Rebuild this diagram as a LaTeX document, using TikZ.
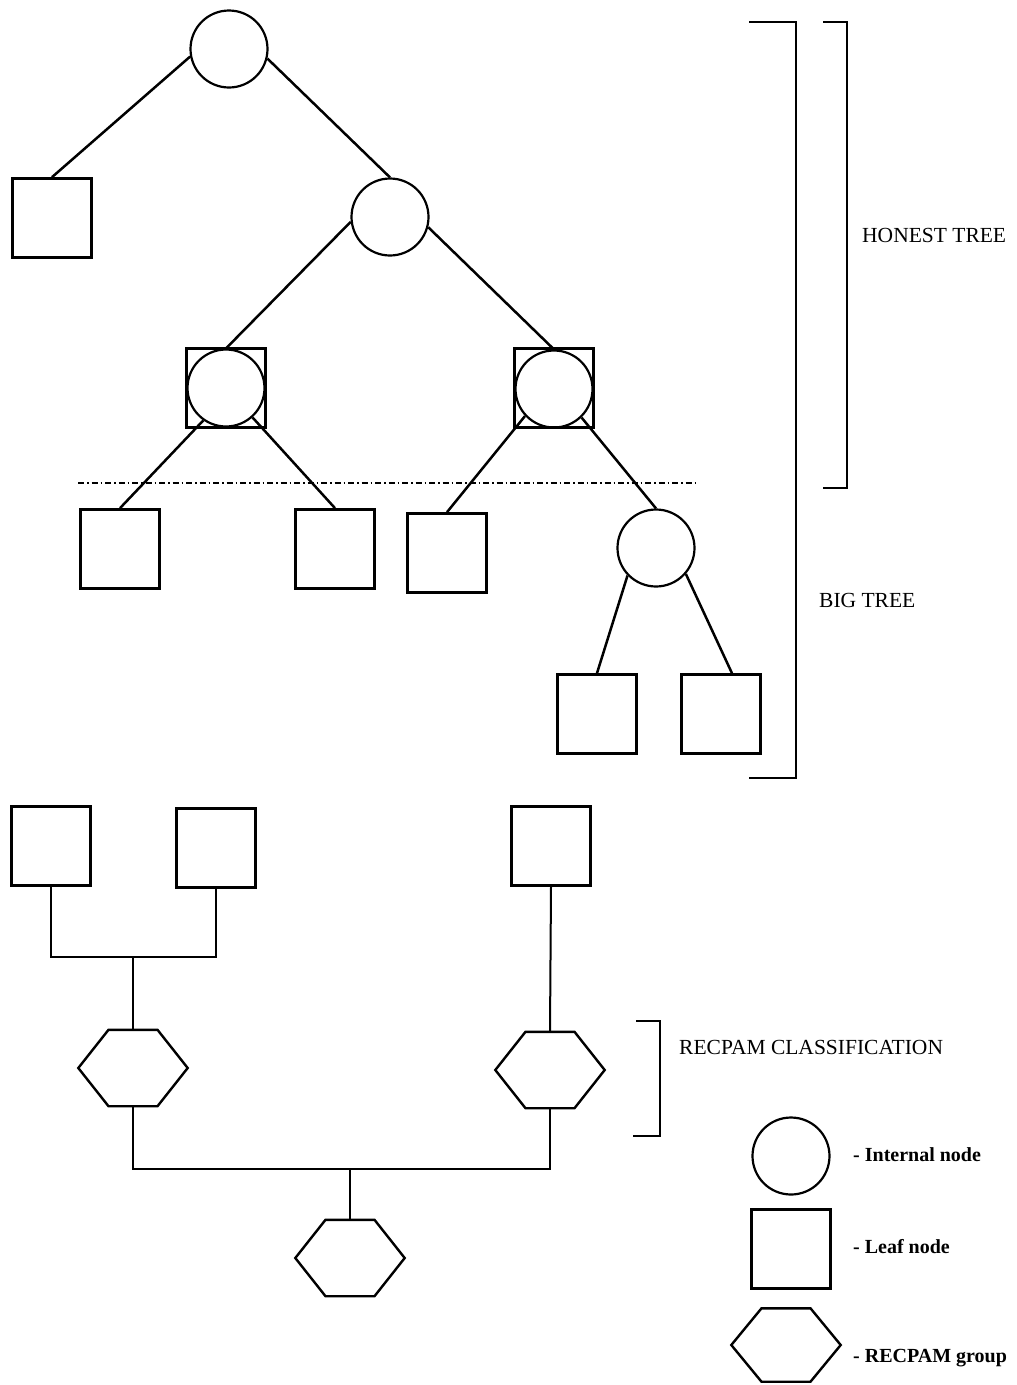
\documentclass[tikz,border=0pt]{standalone}
\usepackage{fontspec}
\setmainfont{Liberation Serif}
\begin{document}
\begin{tikzpicture}[x=1pt,y=-1pt,
  internal/.style={circle, draw, line width=2.2pt, minimum size=77pt, inner sep=0pt},
  leaf/.style={rectangle, draw, line width=2.7pt, minimum size=79pt, inner sep=0pt},
  hexbox/.style={rectangle, minimum width=109pt, minimum height=76pt, inner sep=0pt},
  hexline/.style={line width=2.4pt, line join=miter},
  branch/.style={line width=2.5pt},
  link/.style={line width=2pt},
  brace/.style={line width=1.5pt},
  cutline/.style={line width=1.4pt, dash pattern=on 6pt off 3pt on 1.5pt off 3pt},
  sidetext/.style={anchor=base west, inner sep=0pt, font=\fontsize{21.5}{24}\selectfont},
  keytext/.style={anchor=base west, inner sep=0pt, font=\bfseries\fontsize{20}{24}\selectfont}
]
\useasboundingbox (0,0) rectangle (1017,1385);

% ---- the tree ----
\node[internal] (root) at (229,49) {};
\node[leaf] (l1) at (52,218) {};
\node[internal] (n2) at (390,217) {};
\node[leaf] (d1) at (226,388) {};
\node[internal] (d1c) at (226,388) {};
\node[leaf] (d2) at (554,388) {};
\node[internal] (d2c) at (554,389) {};
\node[leaf] (l2) at (120,549) {};
\node[leaf] (l3) at (335,549) {};
\node[leaf] (l4) at (447,553) {};
\node[internal] (n4) at (656,548) {};
\node[leaf] (l5) at (597,714) {};
\node[leaf] (l6) at (721,714) {};

\draw[branch] (root.191) -- (l1.north);
\draw[branch] (root.346) -- (n2.north);
\draw[branch] (n2.187) -- (d1c.north);
\draw[branch] (n2.345) -- (d2c.north);
\draw[branch] (d1c.235) -- (l2.north);
\draw[branch] (d1c.312) -- (l3.north);
\draw[branch] (d2c.223) -- (l4.north);
\draw[branch] (d2c.314) -- (n4.north);
\draw[branch] (n4.224) -- (l5.north);
\draw[branch] (n4.319) -- (l6.75);

% pruning level
\coordinate (cutL) at (78,483);
\coordinate (cutR) at (696,483);
\draw[cutline] (cutL) -- (cutR);

% ---- brackets and their labels ----
\draw[brace] (749,22) -- (796,22) -- (796,778) -- (749,778);
\draw[brace] (823,22) -- (847,22) -- (847,488) -- (823,488);
\draw[brace] (636,1021) -- (660,1021) -- (660,1136) -- (633,1136);

\node[sidetext] (honest) at (862,242) {HONEST TREE};
\node[sidetext] (big) at (819,607) {BIG TREE};
\node[sidetext] (recpam) at (679,1054) {RECPAM CLASSIFICATION};

% ---- RECPAM amalgamation ----
\node[leaf] (a) at (51,846) {};
\node[leaf] (b) at (216,848) {};
\node[leaf] (c) at (551,846) {};
\node[hexbox] (h1) at (133,1068) {};
\node[hexbox] (h2) at (550,1070) {};
\node[hexbox] (h3) at (350,1258) {};

\coordinate (j1) at (133,957);
\coordinate (j2) at (350,1169);
\draw[link] (a.south) |- (j1) -| (b.south);
\draw[link] (j1) -- (h1.north);
\draw[link] (c.south) -- (h2.north);
\draw[link] (h1.south) |- (j2) -| (h2.south);
\draw[link] (j2) -- (h3.north);

% ---- key ----
\node[internal] (kc) at (791,1156) {};
\node[leaf, line width=2.2pt] (ks) at (791,1249) {};
\node[hexbox, minimum height=73pt] (kh) at (786,1345) {};
\node[keytext] (kct) at (853,1161) {- Internal node};
\node[keytext] (kst) at (853,1253) {- Leaf node};
\node[keytext] (kht) at (853,1362) {- RECPAM group};

% hexagon outlines
\foreach \h in {h1,h2,h3,kh}
  \draw[hexline] ([xshift=-24.5pt]\h.north) -- ([xshift=24.5pt]\h.north)
    -- (\h.east) -- ([xshift=24.5pt]\h.south) -- ([xshift=-24.5pt]\h.south)
    -- (\h.west) -- cycle;
\end{tikzpicture}
\end{document}
